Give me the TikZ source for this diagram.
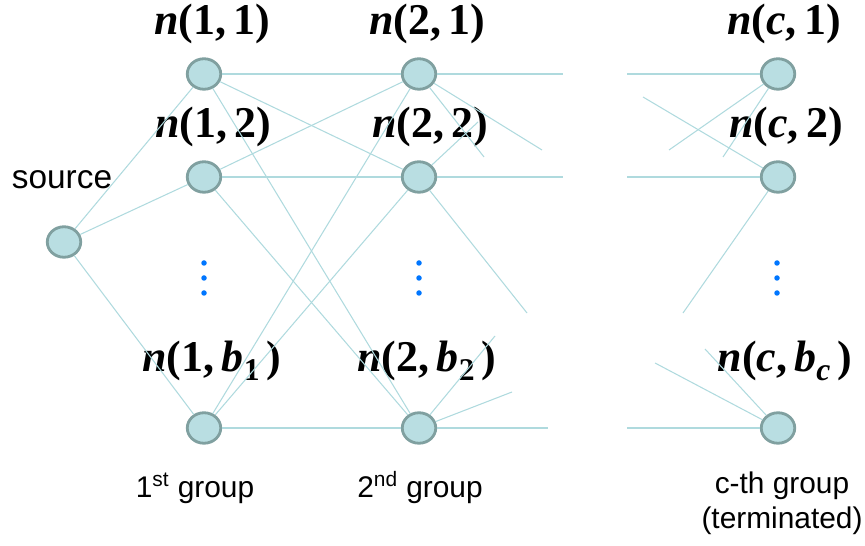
\documentclass[tikz,border=0pt]{standalone}
\usepackage{fontspec}
\setmainfont{Liberation Sans}
\newfontfamily\lblfont{Liberation Serif}
\usetikzlibrary{shapes.geometric}
\definecolor{nodefill}{RGB}{185,222,226}
\definecolor{nodeedge}{RGB}{128,160,160}
\definecolor{linkteal}{RGB}{175,218,222}
\definecolor{dotblue}{RGB}{0,118,255}
\newcommand{\nlabel}[2]{{\lblfont\bfseries\itshape n}{\lblfont\bfseries(#1,\,#2)}}
\newcommand{\lowsub}[1]{\raisebox{-5pt}{\fontsize{18}{18}\selectfont #1}\,}

\begin{document}
\begin{tikzpicture}[x=0.02cm, y=-0.02cm,
  vtx/.style={draw=nodeedge, fill=nodefill, ellipse, line width=1.6pt, minimum width=0.67cm, minimum height=0.61cm, inner sep=0pt},
  link/.style={draw=linkteal, line width=0.6pt},
  lbl/.style={font=\fontsize{25}{28}\selectfont, inner sep=0pt},
  grp/.style={font=\fontsize{17}{20}\selectfont, align=center, inner sep=0pt},
  vdot/.style={circle, fill=dotblue, inner sep=0pt, minimum size=0.11cm},
]
\useasboundingbox (0,0) rectangle (865,546);

\node[vtx] (src) at (64,242) {};
\node[vtx] (n11) at (204,74) {};
\node[vtx] (n12) at (204,177) {};
\node[vtx] (n1b) at (204,428) {};
\node[vtx] (n21) at (419,74) {};
\node[vtx] (n22) at (419,177) {};
\node[vtx] (n2b) at (419,428) {};
\node[vtx] (nc1) at (778,74) {};
\node[vtx] (nc2) at (778,177) {};
\node[vtx] (ncb) at (778,428) {};

\node[lbl] (l11) at (212,24) {\nlabel{1}{1}};
\node[lbl] (l12) at (213,127) {\nlabel{1}{2}};
\node[lbl] (l1b) at (212,361) {\nlabel{1}{\textit{b}\lowsub{1}}};
\node[lbl] (l21) at (427,24) {\nlabel{2}{1}};
\node[lbl] (l22) at (430,127) {\nlabel{2}{2}};
\node[lbl] (l2b) at (427,361) {\nlabel{2}{\textit{b}\lowsub{2}}};
\node[lbl] (lc1) at (784,24) {\nlabel{\textit{c}}{1}};
\node[lbl] (lc2) at (786,127) {\nlabel{\textit{c}}{2}};
\node[lbl] (lcb) at (785,361) {\nlabel{\textit{c}}{\textit{b}\lowsub{\textit{c}}}};

\node[font=\fontsize{19}{22}\selectfont, inner sep=0pt] (srclbl) at (62,180) {source};
\node[grp] (g1) at (195,488) {1\textsuperscript{st} group};
\node[grp] (g2) at (420,488) {2\textsuperscript{nd} group};
\node[grp] (gc) at (782,503) {c-th group\\(terminated)};

\foreach \x in {204,419,777}
  \foreach \y in {263,278,293}
    \node[vdot] at (\x,\y) {};

\foreach \a in {n11,n12,n1b}
  \draw[link] (src) -- (\a);
\foreach \a in {n11,n12,n1b}
  \foreach \b in {n21,n22,n2b}
    \draw[link] (\a) -- (\b);

\coordinate (o21a) at (563,74);
\coordinate (o21b) at (542,150);
\coordinate (o21c) at (484,157);
\coordinate (o22a) at (563,177);
\coordinate (o22b) at (478,122);
\coordinate (o22c) at (527,313);
\coordinate (o2ba) at (548,428);
\coordinate (o2bb) at (495,336);
\coordinate (o2bc) at (512,392);
\draw[link] (n21) -- (o21a);
\draw[link] (n21) -- (o21b);
\draw[link] (n21) -- (o21c);
\draw[link] (n22) -- (o22a);
\draw[link] (n22) -- (o22b);
\draw[link] (n22) -- (o22c);
\draw[link] (n2b) -- (o2ba);
\draw[link] (n2b) -- (o2bb);
\draw[link] (n2b) -- (o2bc);

\coordinate (ic1a) at (627,74);
\coordinate (ic1b) at (669,150);
\coordinate (ic1c) at (723,157);
\coordinate (ic2a) at (627,177);
\coordinate (ic2b) at (643,97);
\coordinate (ic2c) at (683,313);
\coordinate (icba) at (627,428);
\coordinate (icbb) at (655,363);
\coordinate (icbc) at (705,349);
\draw[link] (ic1a) -- (nc1);
\draw[link] (ic1b) -- (nc1);
\draw[link] (ic1c) -- (nc1);
\draw[link] (ic2a) -- (nc2);
\draw[link] (ic2b) -- (nc2);
\draw[link] (ic2c) -- (nc2);
\draw[link] (icba) -- (ncb);
\draw[link] (icbb) -- (ncb);
\draw[link] (icbc) -- (ncb);
\end{tikzpicture}
\end{document}
